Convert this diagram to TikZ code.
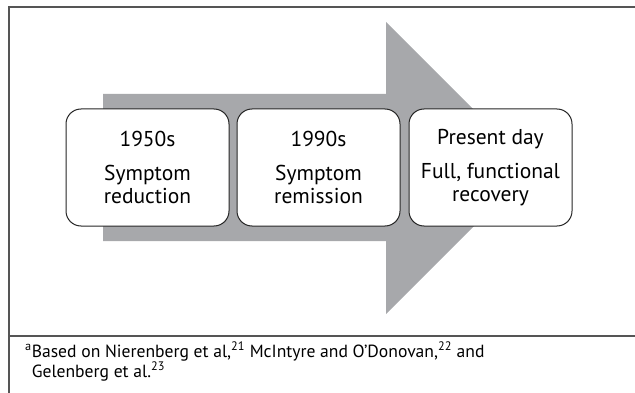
\documentclass[tikz,border=0pt]{standalone}
\usepackage{fontspec}
\setmainfont{PT Sans}
\usetikzlibrary{positioning}
\definecolor{arrowgrey}{HTML}{A7A8AB}
\definecolor{framegrey}{HTML}{555555}

\begin{document}
\begin{tikzpicture}[x=1pt,y=-1pt,
    stage/.style={draw=black!85, line width=1pt, fill=white,
      rounded corners=15pt, minimum width=163pt, minimum height=117pt,
      align=center, inner sep=0pt, font=\fontsize{21.5}{23}\selectfont}]
    \useasboundingbox (0,0) rectangle (635,393);

    % frame and rule above the note
    \coordinate (TL) at (9,7);
    \draw[framegrey, line width=1.2pt] (9,393) -- (TL) -- (635,7);
    \draw[framegrey, line width=1.2pt] (9,336) -- (635,336);

    % big arrow behind the stages
    \fill[arrowgrey] (103,94) -- (386,94) -- (386,22) -- (532,168)
      -- (386,314) -- (386,241) -- (103,241) -- cycle;

    \node[stage] (fifties) at (147.5,167.5) {1950s\\[11pt]Symptom\\reduction};
    \node[stage, right=7pt of fifties] (nineties) {1990s\\[11pt]Symptom\\remission};
    \node[stage, right=8pt of nineties] (today) {Present day\\[11pt]Full, functional\\recovery};

    % footnote
    \node[anchor=north west, align=left, inner sep=0pt,
      font=\fontsize{17.6}{20}\selectfont] (note) at (25,342)
      {\textsuperscript{a}Based on Nierenberg et al,\textsuperscript{21} McIntyre and O’Donovan,\textsuperscript{22} and\\
       \phantom{\textsuperscript{a}}Gelenberg et al.\textsuperscript{23}};
\end{tikzpicture}
\end{document}
